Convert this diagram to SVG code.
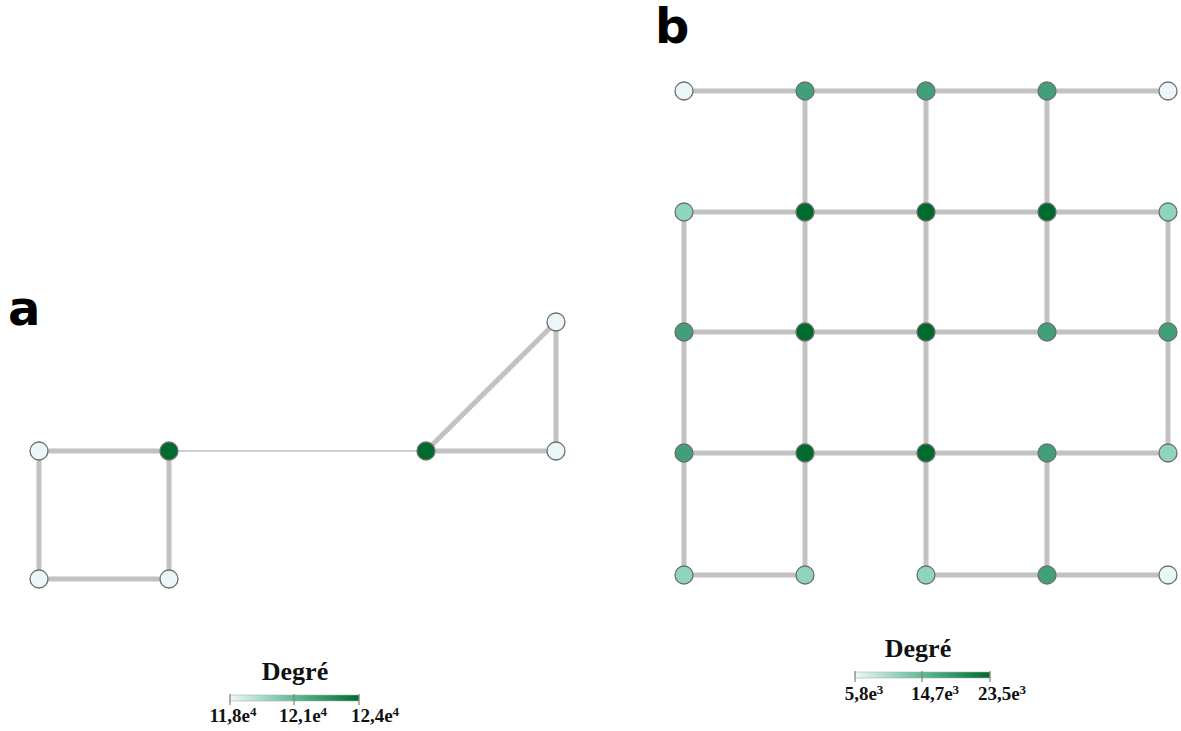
<svg xmlns="http://www.w3.org/2000/svg" width="1181" height="731" viewBox="0 0 1181 731">
<defs>
<linearGradient id="grad" x1="0" y1="0" x2="1" y2="0">
<stop offset="0" stop-color="#eef9fa"/>
<stop offset="0.5" stop-color="#5dbb95"/>
<stop offset="1" stop-color="#006b2f"/>
</linearGradient>
<style>
.e{stroke:#c2c2c2;stroke-width:5;fill:none;stroke-linecap:round}
.thin{stroke:#cfcfcf;stroke-width:2;fill:none}
.n{stroke:#6e6e6e;stroke-width:1.3}
.l0{fill:#eaf6f8}
.l1{fill:#8fd4bc}
.l2{fill:#41a07a}
.l3{fill:#006b2f}
.panel{font-family:"DejaVu Sans","Noto Sans",sans-serif;font-weight:bold;font-size:48px;fill:#000}
.lt{font-family:"Liberation Serif",serif;font-weight:bold;font-size:26px;fill:#111;text-anchor:middle}
.ll{font-family:"Liberation Serif",serif;font-weight:bold;font-size:19px;fill:#111;text-anchor:middle}
.tick{stroke:#8a8070;stroke-width:1.2}
</style>
</defs>
<rect width="1181" height="731" fill="#ffffff"/>
<text class="panel" x="8" y="325">a</text>
<text class="panel" x="655" y="43">b</text>
<g id="connectors">
<line class="e" x1="39" y1="451" x2="169" y2="451"/>
<line class="e" x1="39" y1="451" x2="39" y2="579"/>
<line class="e" x1="169" y1="451" x2="169" y2="579"/>
<line class="e" x1="39" y1="579" x2="169" y2="579"/>
<line class="thin" x1="169" y1="451" x2="426" y2="451"/>
<line class="e" x1="426" y1="451" x2="556" y2="451"/>
<line class="e" x1="426" y1="451" x2="556" y2="322"/>
<line class="e" x1="556" y1="322" x2="556" y2="451"/>
<line class="e" x1="684" y1="91" x2="1168" y2="91"/>
<line class="e" x1="684" y1="212" x2="1168" y2="212"/>
<line class="e" x1="684" y1="332" x2="1168" y2="332"/>
<line class="e" x1="684" y1="453" x2="1168" y2="453"/>
<line class="e" x1="684" y1="575" x2="805" y2="575"/>
<line class="e" x1="926" y1="575" x2="1168" y2="575"/>
<line class="e" x1="805" y1="91" x2="805" y2="575"/>
<line class="e" x1="926" y1="91" x2="926" y2="575"/>
<line class="e" x1="1047" y1="91" x2="1047" y2="332"/>
<line class="e" x1="1047" y1="453" x2="1047" y2="575"/>
<line class="e" x1="684" y1="212" x2="684" y2="575"/>
<line class="e" x1="1168" y1="212" x2="1168" y2="453"/>
</g>
<g id="a1"><circle class="n l0" cx="39" cy="451" r="9"/></g>
<g id="a2"><circle class="n l3" cx="169" cy="451" r="9"/></g>
<g id="a3"><circle class="n l0" cx="39" cy="579" r="9"/></g>
<g id="a4"><circle class="n l0" cx="169" cy="579" r="9"/></g>
<g id="a5"><circle class="n l3" cx="426" cy="451" r="9"/></g>
<g id="a6"><circle class="n l0" cx="556" cy="451" r="9"/></g>
<g id="a7"><circle class="n l0" cx="556" cy="322" r="9"/></g>
<g id="b00"><circle class="n l0" cx="684" cy="91" r="9"/></g>
<g id="b01"><circle class="n l2" cx="805" cy="91" r="9"/></g>
<g id="b02"><circle class="n l2" cx="926" cy="91" r="9"/></g>
<g id="b03"><circle class="n l2" cx="1047" cy="91" r="9"/></g>
<g id="b04"><circle class="n l0" cx="1168" cy="91" r="9"/></g>
<g id="b10"><circle class="n l1" cx="684" cy="212" r="9"/></g>
<g id="b11"><circle class="n l3" cx="805" cy="212" r="9"/></g>
<g id="b12"><circle class="n l3" cx="926" cy="212" r="9"/></g>
<g id="b13"><circle class="n l3" cx="1047" cy="212" r="9"/></g>
<g id="b14"><circle class="n l1" cx="1168" cy="212" r="9"/></g>
<g id="b20"><circle class="n l2" cx="684" cy="332" r="9"/></g>
<g id="b21"><circle class="n l3" cx="805" cy="332" r="9"/></g>
<g id="b22"><circle class="n l3" cx="926" cy="332" r="9"/></g>
<g id="b23"><circle class="n l2" cx="1047" cy="332" r="9"/></g>
<g id="b24"><circle class="n l2" cx="1168" cy="332" r="9"/></g>
<g id="b30"><circle class="n l2" cx="684" cy="453" r="9"/></g>
<g id="b31"><circle class="n l3" cx="805" cy="453" r="9"/></g>
<g id="b32"><circle class="n l3" cx="926" cy="453" r="9"/></g>
<g id="b33"><circle class="n l2" cx="1047" cy="453" r="9"/></g>
<g id="b34"><circle class="n l1" cx="1168" cy="453" r="9"/></g>
<g id="b40"><circle class="n l1" cx="684" cy="575" r="9"/></g>
<g id="b41"><circle class="n l1" cx="805" cy="575" r="9"/></g>
<g id="b42"><circle class="n l1" cx="926" cy="575" r="9"/></g>
<g id="b43"><circle class="n l2" cx="1047" cy="575" r="9"/></g>
<g id="b44"><circle class="n l0" cx="1168" cy="575" r="9"/></g>
<g id="legend-a">
<text class="lt" x="295" y="680">Degré</text>
<rect x="230" y="695" width="129" height="6" fill="url(#grad)" stroke="#b0b0b0" stroke-width="0.6"/>
<line class="tick" x1="230" y1="694" x2="230" y2="705"/>
<line class="tick" x1="294" y1="694" x2="294" y2="705"/>
<line class="tick" x1="359" y1="694" x2="359" y2="705"/>
<text class="ll" x="233" y="722">11,8e<tspan font-size="13" dy="-6">4</tspan></text>
<text class="ll" x="303" y="722">12,1e<tspan font-size="13" dy="-6">4</tspan></text>
<text class="ll" x="375" y="722">12,4e<tspan font-size="13" dy="-6">4</tspan></text>
</g>
<g id="legend-b">
<text class="lt" x="918" y="657">Degré</text>
<rect x="855" y="672" width="135" height="6" fill="url(#grad)" stroke="#b0b0b0" stroke-width="0.6"/>
<line class="tick" x1="855" y1="671" x2="855" y2="682"/>
<line class="tick" x1="922" y1="671" x2="922" y2="682"/>
<line class="tick" x1="990" y1="671" x2="990" y2="682"/>
<text class="ll" x="864" y="700">5,8e<tspan font-size="13" dy="-6">3</tspan></text>
<text class="ll" x="935" y="700">14,7e<tspan font-size="13" dy="-6">3</tspan></text>
<text class="ll" x="1002" y="700">23,5e<tspan font-size="13" dy="-6">3</tspan></text>
</g>
</svg>
